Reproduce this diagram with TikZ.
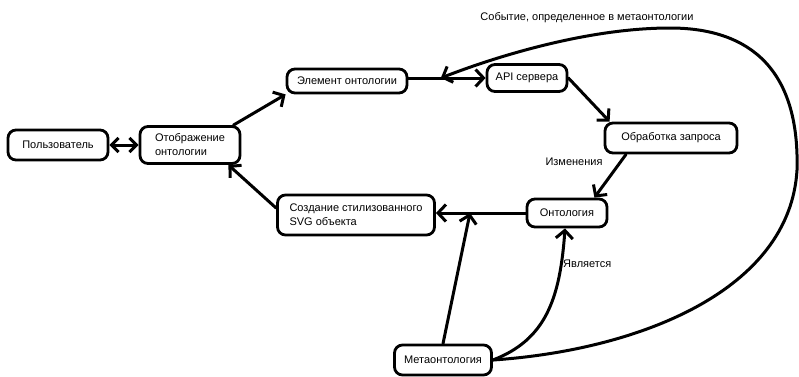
\documentclass[tikz,border=0pt]{standalone}
\usepackage{fontspec}
\setmainfont{Liberation Sans}
\usetikzlibrary{arrows.meta,calc}
\begin{document}
\begin{tikzpicture}[x=1pt,y=-1pt,
  font=\fontsize{11pt}{14pt}\selectfont,
  box/.style={draw, line width=2.8pt, rounded corners=8pt, inner sep=0pt,
    align=left, fill=white},
  conn/.style={line width=3pt, line cap=round,
    -{Straight Barb[length=8pt,width=17pt,line width=3pt]}},
  both/.style={line width=3pt,
    {Straight Barb[length=7pt,width=14pt,line width=3pt]}-{Straight Barb[length=7pt,width=14pt,line width=3pt]}},
  lbl/.style={inner sep=0pt}]
\useasboundingbox (0,0) rectangle (799,376);

% nodes
\node[box, minimum width=100pt, minimum height=30pt] (user) at (58,145) {Пользователь};
\node[box, minimum width=100pt, minimum height=37pt] (disp) at (190,145) {Отображение\\онтологии};
\node[box, minimum width=120pt, minimum height=24pt] (elem) at (347,81) {Элемент онтологии};
\node[box, minimum width=80pt, minimum height=27pt] (api) at (527,78) {API сервера};
\node[box, minimum width=132pt, minimum height=30pt] (proc) at (671,138) {Обработка запроса};
\node[box, minimum width=80pt, minimum height=28pt] (onto) at (567,213) {Онтология};
\node[box, minimum width=157pt, minimum height=40pt] (svg) at (356,215) {Создание стилизованного\\SVG объекта};
\node[box, minimum width=97pt, minimum height=30pt] (meta) at (443,360) {Метаонтология};

% labels
\node[lbl] (lchg) at (574,162) {Изменения};
\node[lbl, anchor=west] (lis) at (563,264) {Является};
\node[lbl] (levt) at (587,18) {Событие, определенное в метаонтологии};

% junction points on connectors
\coordinate (evt) at ($(elem.east |- api.west)!0.42!(api.west)$);
\coordinate (jn) at ($(onto.west)!0.62!(onto.west -| svg.east)$);

% connectors
\draw[both] (user.east) -- (disp.west);
\draw[conn] ([xshift=-8pt]disp.north east) -- (elem.south west);
\draw[conn] ([yshift=7pt]svg.west) -- ([xshift=-13pt]disp.south east);
\draw[conn] (elem.east |- api.west) -- (api.west);
\draw[conn] (api.east) -- ([xshift=6pt]proc.north west);
\draw[conn] ([xshift=-45pt]proc.south) -- ([xshift=-14pt]onto.north east);
\draw[conn] (onto.west) -- (onto.west -| svg.east);
\draw[conn] (meta.north) -- (jn);
\draw[conn] (meta.east) .. controls (545,340) and (560,300) .. ([xshift=-2pt]onto.south);
\draw[conn] (meta.east) .. controls (640,350) and (790,290) .. (797,170)
  .. controls (800,60) and (740,28) .. (670,28)
  .. controls (590,28) and (500,55) .. (evt);
\end{tikzpicture}
\end{document}
